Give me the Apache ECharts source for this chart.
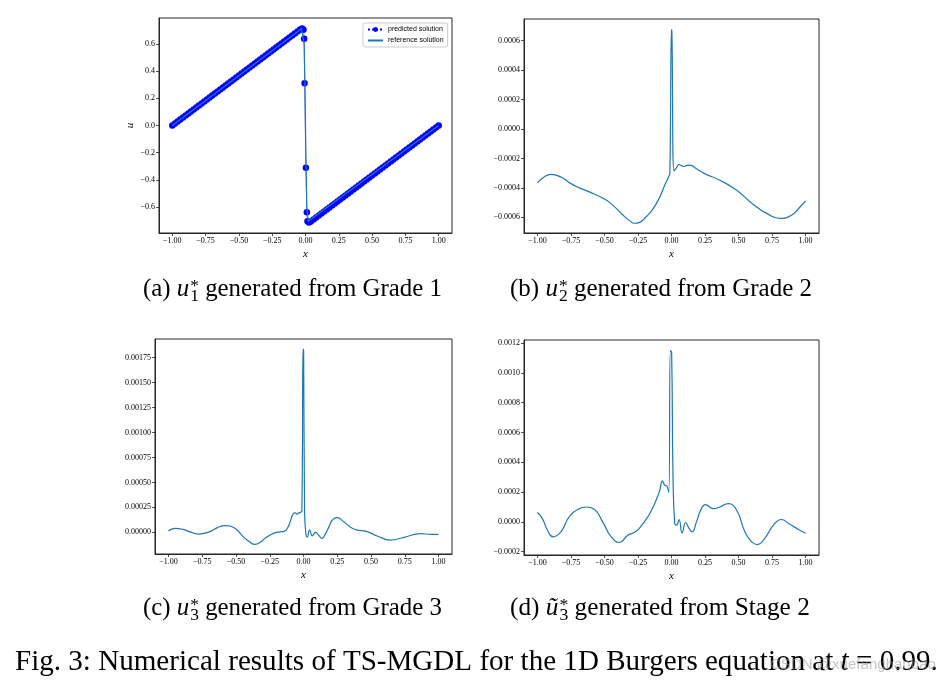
<!DOCTYPE html>
<html><head><meta charset="utf-8">
<script src="https://cdn.jsdelivr.net/npm/echarts@6/dist/echarts.min.js"></script>
<style>html,body{margin:0;padding:0;background:#fff}#c{width:950px;height:686px}</style>
</head><body><div id="c"></div>
<script>
// ---------------- DATA ----------------
const xTicks = [-1, -0.75, -0.5, -0.25, 0, 0.25, 0.5, 0.75, 1];
const xTickLabels = ['−1.00','−0.75','−0.50','−0.25','0.00','0.25','0.50','0.75','1.00'];
const yTicksA = [-0.6, -0.4, -0.2, 0, 0.2, 0.4, 0.6];
const yTickLabelsA = ['−0.6','−0.4','−0.2','0.0','0.2','0.4','0.6'];
const yTicksB = [-0.0006, -0.0004, -0.0002, 0, 0.0002, 0.0004, 0.0006];
const yTickLabelsB = ['−0.0006','−0.0004','−0.0002','0.0000','0.0002','0.0004','0.0006'];
const yTicksC = [0, 0.00025, 0.0005, 0.00075, 0.001, 0.00125, 0.0015, 0.00175];
const yTickLabelsC = ['0.00000','0.00025','0.00050','0.00075','0.00100','0.00125','0.00150','0.00175'];
const yTicksD = [-0.0002, 0, 0.0002, 0.0004, 0.0006, 0.0008, 0.001, 0.0012];
const yTickLabelsD = ['−0.0002','0.0000','0.0002','0.0004','0.0006','0.0008','0.0010','0.0012'];

// (a) predicted solution (markers) and reference solution
const xPredA = [-1.00,-0.98,-0.96,-0.94,-0.92,-0.90,-0.88,-0.86,-0.84,-0.82,-0.80,-0.78,-0.76,-0.74,-0.72,-0.70,-0.68,-0.66,-0.64,-0.62,-0.60,-0.58,-0.56,-0.54,-0.52,-0.50,-0.48,-0.46,-0.44,-0.42,-0.40,-0.38,-0.36,-0.34,-0.32,-0.30,-0.28,-0.26,-0.24,-0.22,-0.20,-0.18,-0.16,-0.14,-0.12,-0.10,-0.08,-0.06,-0.04,-0.025,-0.015,-0.010,-0.007,0.003,0.010,0.015,0.025,0.04,0.06,0.08,0.10,0.12,0.14,0.16,0.18,0.20,0.22,0.24,0.26,0.28,0.30,0.32,0.34,0.36,0.38,0.40,0.42,0.44,0.46,0.48,0.50,0.52,0.54,0.56,0.58,0.60,0.62,0.64,0.66,0.68,0.70,0.72,0.74,0.76,0.78,0.80,0.82,0.84,0.86,0.88,0.90,0.92,0.94,0.96,0.98,1.00];
const uPredA = [0.000,0.015,0.029,0.044,0.059,0.074,0.088,0.103,0.118,0.133,0.147,0.162,0.177,0.192,0.206,0.221,0.236,0.251,0.265,0.280,0.295,0.310,0.324,0.339,0.354,0.369,0.383,0.398,0.413,0.427,0.442,0.457,0.472,0.486,0.501,0.516,0.531,0.545,0.560,0.575,0.590,0.604,0.619,0.634,0.649,0.663,0.678,0.693,0.707,0.714,0.706,0.640,0.312,-0.312,-0.640,-0.706,-0.714,-0.708,-0.693,-0.678,-0.663,-0.649,-0.634,-0.619,-0.604,-0.590,-0.575,-0.560,-0.545,-0.531,-0.516,-0.501,-0.486,-0.472,-0.457,-0.442,-0.427,-0.413,-0.398,-0.383,-0.369,-0.354,-0.339,-0.324,-0.310,-0.295,-0.280,-0.265,-0.251,-0.236,-0.221,-0.206,-0.192,-0.177,-0.162,-0.147,-0.133,-0.118,-0.103,-0.088,-0.074,-0.059,-0.044,-0.029,-0.015,0.000];
const xRefA = [-1.0, -0.03, -0.02, -0.01, -0.004, 0.0, 0.004, 0.01, 0.02, 0.03, 1.0];
const uRefA = [0.0, 0.713, 0.706, 0.60, 0.30, 0.0, -0.30, -0.60, -0.706, -0.713, 0.0];

// (b) u2*
const xB = [-1.000,-0.950,-0.900,-0.825,-0.750,-0.688,-0.613,-0.500,-0.438,-0.363,-0.313,-0.276,-0.238,-0.189,-0.139,-0.089,-0.051,-0.031,-0.019,-0.012,0.000,0.003,0.020,0.041,0.056,0.074,0.091,0.111,0.136,0.161,0.186,0.248,0.361,0.486,0.610,0.710,0.810,0.897,0.960,1.000];
const yB = [-3.66e-4,-3.26e-4,-3.08e-4,-3.26e-4,-3.71e-4,-4.00e-4,-4.27e-4,-4.76e-4,-5.17e-4,-5.84e-4,-6.22e-4,-6.40e-4,-6.34e-4,-5.96e-4,-5.44e-4,-4.65e-4,-3.82e-4,-3.44e-4,-3.19e-4,-3.00e-4,6.75e-4,6.60e-4,-2.85e-4,-2.58e-4,-2.40e-4,-2.49e-4,-2.54e-4,-2.49e-4,-2.45e-4,-2.54e-4,-2.70e-4,-3.03e-4,-3.48e-4,-4.16e-4,-5.12e-4,-5.73e-4,-6.07e-4,-5.84e-4,-5.28e-4,-4.88e-4];

// (c) u3*
const xC = [-1.000,-0.955,-0.893,-0.840,-0.780,-0.695,-0.640,-0.583,-0.509,-0.447,-0.400,-0.360,-0.320,-0.285,-0.223,-0.175,-0.144,-0.112,-0.074,-0.060,-0.049,-0.035,-0.022,-0.012,-0.003,0.001,0.008,0.018,0.028,0.045,0.065,0.090,0.110,0.137,0.160,0.190,0.215,0.248,0.298,0.372,0.471,0.546,0.645,0.744,0.868,0.943,1.000];
const yC = [0.13e-4,0.40e-4,0.30e-4,0.05e-4,-0.17e-4,0.07e-4,0.45e-4,0.67e-4,0.40e-4,-0.43e-4,-0.95e-4,-1.20e-4,-1.00e-4,-0.60e-4,-0.10e-4,0.05e-4,0.10e-4,0.60e-4,1.90e-4,1.95e-4,1.83e-4,1.95e-4,2.00e-4,2.15e-4,18.37e-4,18.20e-4,2.00e-4,-0.20e-4,-0.45e-4,0.25e-4,-0.35e-4,0.00e-4,-0.25e-4,-0.60e-4,-0.20e-4,0.60e-4,1.25e-4,1.47e-4,1.07e-4,0.33e-4,0.07e-4,-0.37e-4,-0.77e-4,-0.50e-4,-0.13e-4,-0.20e-4,-0.20e-4];

// (d) tilde u3*
const xD = [-1.000,-0.963,-0.925,-0.883,-0.825,-0.763,-0.688,-0.638,-0.576,-0.513,-0.450,-0.388,-0.326,-0.263,-0.213,-0.163,-0.113,-0.088,-0.068,-0.051,-0.034,-0.021,-0.008,0.001,0.011,0.024,0.037,0.056,0.079,0.106,0.131,0.154,0.186,0.223,0.253,0.311,0.361,0.423,0.486,0.548,0.598,0.640,0.698,0.760,0.818,0.885,0.948,1.000];
const yD = [0.63e-4,0.22e-4,-0.56e-4,-1.00e-4,-0.67e-4,0.33e-4,0.89e-4,1.00e-4,0.85e-4,0.00e-4,-1.00e-4,-1.38e-4,-0.89e-4,-0.63e-4,-0.11e-4,0.55e-4,1.50e-4,2.10e-4,2.75e-4,2.46e-4,2.39e-4,2.00e-4,11.50e-4,11.35e-4,3.20e-4,-0.10e-4,-0.22e-4,0.16e-4,-0.74e-4,-0.04e-4,-0.44e-4,-0.67e-4,0.00e-4,0.89e-4,1.16e-4,0.89e-4,1.00e-4,1.23e-4,0.78e-4,-0.67e-4,-1.34e-4,-1.52e-4,-1.07e-4,-0.22e-4,0.16e-4,-0.18e-4,-0.51e-4,-0.76e-4];

const xRange = [-1.1, 1.1];
const yRangeA = [-0.792, 0.792];
const yRangeB = [-0.000706, 0.000746];
const yRangeC = [-0.000217, 0.001937];
const yRangeD = [-0.000222, 0.00122];

// ---------------- CHART ----------------
const SERIF = 'Liberation Serif';
const AX = '#262626';
function pairs(xs, ys){ return xs.map((x,i)=>[x, ys[i]]); }
function lab(ticks, labels){ return v => { const i = ticks.findIndex(t => Math.abs(t - v) < 1e-12); return i >= 0 ? labels[i] : ''; }; }

const grids = [
  {left:159, top:18, width:293, height:215},
  {left:524, top:19, width:295, height:214},
  {left:155, top:339, width:297, height:215},
  {left:524, top:340, width:295, height:215}
].map(g => Object.assign({show:true, borderColor:AX, borderWidth:1, backgroundColor:'#fff', containLabel:false, outerBoundsMode:'none'}, g));

function xAxisFor(i){
  return {
    gridIndex:i, type:'value', min:xRange[0], max:xRange[1],
    axisLine:{show:true, onZero:false, lineStyle:{color:AX, width:1}},
    axisTick:{show:true, length:3, customValues:xTicks, lineStyle:{color:AX, width:0.8}},
    axisLabel:{customValues:xTicks, formatter:lab(xTicks, xTickLabels), fontFamily:SERIF, fontSize:8, color:'#000', margin:4},
    splitLine:{show:false},
    name:'x', nameLocation:'middle', nameGap:16,
    nameTextStyle:{fontFamily:SERIF, fontStyle:'italic', fontSize:11, color:'#000'}
  };
}
function yAxisFor(i, range, ticks, labels, name){
  return {
    gridIndex:i, type:'value', min:range[0], max:range[1],
    axisLine:{show:true, onZero:false, lineStyle:{color:AX, width:1}},
    axisTick:{show:true, length:3, customValues:ticks, lineStyle:{color:AX, width:0.8}},
    axisLabel:{customValues:ticks, formatter:lab(ticks, labels), fontFamily:SERIF, fontSize:8, color:'#000', margin:4},
    splitLine:{show:false},
    name:name || '', nameLocation:'middle', nameGap:23, nameRotate:90,
    nameTextStyle:{fontFamily:SERIF, fontStyle:'italic', fontSize:11, color:'#000'}
  };
}

const curve = (i, xs, ys) => ({
  type:'line', xAxisIndex:i, yAxisIndex:i, data:pairs(xs, ys),
  showSymbol:false, symbol:'none', smooth:0.5,
  lineStyle:{color:'#1f77b4', width:1.2}, itemStyle:{color:'#1f77b4'}, silent:true
});

// ---------------- CAPTIONS (graphic text) ----------------
const mctx = document.createElement('canvas').getContext('2d');
function mw(t, size, it, fam){ mctx.font = (it?'italic ':'') + size + 'px "' + fam + '"'; return mctx.measureText(t).width; }

function caption(parts, x0, x1, baseline, fam, fill){
  fam = fam || SERIF; fill = fill || '#000';
  const B = 20;
  function width(fs){
    let w = 0;
    parts.forEach(p => {
      if (p.base) { w += mw(p.base, fs, true, fam) + 0.04*fs + Math.max(mw(p.sub, fs*0.7, false, fam), mw(p.sup, fs*0.7, false, fam)); }
      else w += mw(p.t, fs, p.it, fam);
    });
    return w;
  }
  const fs = B * (x1 - x0) / width(B);
  const els = [];
  let x = x0;
  const put = (t, xx, base, size, it) => els.push({type:'text', x:xx, y:base - 0.305*size, silent:true,
    style:{text:t, fontFamily:fam, fontSize:size, fontStyle:it?'italic':'normal', fill:fill, align:'left', verticalAlign:'middle'}});
  parts.forEach(p => {
    if (p.base) {
      put(p.base, x, baseline, fs, true);
      x += mw(p.base, fs, true, fam) + 0.04*fs;
      const s = fs*0.7;
      put(p.sub, x, baseline + 0.2*fs, s, false);
      put(p.sup, x, baseline - 0.2*fs, s, false);
      x += Math.max(mw(p.sub, s, false, fam), mw(p.sup, s, false, fam));
    } else {
      put(p.t, x, baseline, fs, p.it);
      x += mw(p.t, fs, p.it, fam);
    }
  });
  return els;
}

const graphicEls = [].concat(
  caption([{t:'(a) '},{base:'u',sub:'1',sup:'*'},{t:' generated from Grade 1'}], 143, 442, 297),
  caption([{t:'(b) '},{base:'u',sub:'2',sup:'*'},{t:' generated from Grade 2'}], 510, 812, 297),
  caption([{t:'(c) '},{base:'u',sub:'3',sup:'*'},{t:' generated from Grade 3'}], 143, 442, 616),
  caption([{t:'(d) '},{base:'ũ',sub:'3',sup:'*'},{t:' generated from Stage 2'}], 510, 810, 616),
  caption([{t:'Fig. 3: Numerical results of TS-MGDL for the 1D Burgers equation at '},{t:'t',it:true},{t:' = 0.99.'}], 15, 938, 671),
  caption([{t:'CSDN @xuefanghanbao'}], 770, 936, 669, 'Liberation Sans', 'rgba(150,150,150,0.55)')
);

const chart = echarts.init(document.getElementById('c'), null, {renderer:'canvas'});
chart.setOption({
  animation:false,
  backgroundColor:'#fff',
  grid:grids,
  xAxis:[0,1,2,3].map(xAxisFor),
  yAxis:[
    yAxisFor(0, yRangeA, yTicksA, yTickLabelsA, 'u'),
    yAxisFor(1, yRangeB, yTicksB, yTickLabelsB),
    yAxisFor(2, yRangeC, yTicksC, yTickLabelsC),
    yAxisFor(3, yRangeD, yTicksD, yTickLabelsD)
  ],
  legend:{
    left:363, top:23, orient:'vertical', itemWidth:15, itemHeight:6, itemGap:4,
    padding:[3,4,3,4], backgroundColor:'rgba(255,255,255,0.85)', borderColor:'#ccc', borderWidth:1, borderRadius:2,
    textStyle:{fontFamily:'Liberation Sans', fontSize:7, color:'#000'},
    data:['predicted solution', {name:'reference solution', itemStyle:{opacity:0}}]
  },
  series:[
    {name:'predicted solution', type:'line', xAxisIndex:0, yAxisIndex:0, data:pairs(xPredA, uPredA),
     symbol:'circle', symbolSize:6.5, showSymbol:true, showAllSymbol:true,
     itemStyle:{color:'#0000ff'}, lineStyle:{color:'#0000ff', width:1, type:'dotted'}, silent:true, z:2},
    {name:'reference solution', type:'line', xAxisIndex:0, yAxisIndex:0, data:pairs(xRefA, uRefA),
     symbol:'none', showSymbol:false, lineStyle:{color:'#1f77b4', width:1.2}, itemStyle:{color:'#1f77b4'}, silent:true, z:3},
    curve(1, xB, yB),
    curve(2, xC, yC),
    curve(3, xD, yD)
  ],
  graphic:{elements:graphicEls}
});
</script></body></html>
